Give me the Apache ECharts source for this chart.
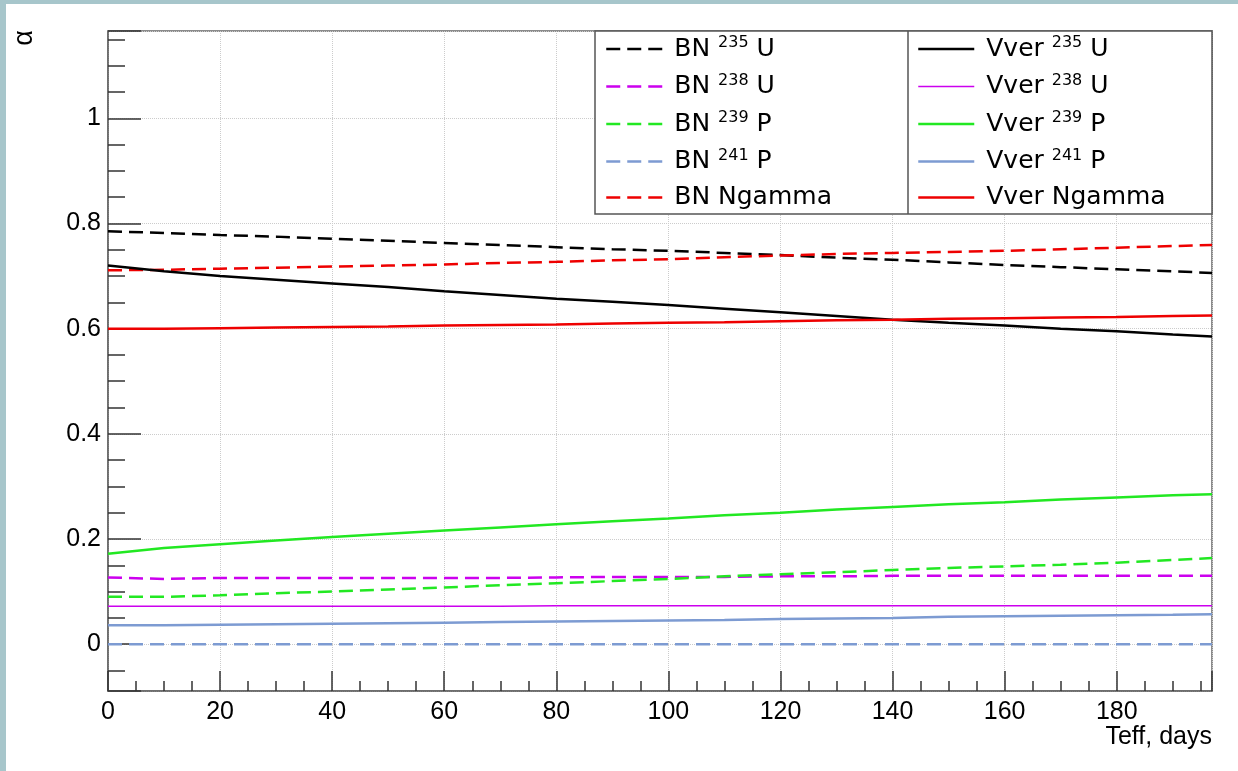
<!DOCTYPE html>
<html>
<head>
<meta charset="utf-8">
<script src="https://cdn.jsdelivr.net/npm/echarts@6/dist/echarts.min.js"></script>
<style>
html,body{margin:0;padding:0;background:#fff;}
#c{width:1238px;height:771px;}
</style>
</head>
<body>
<div id="c"></div>
<script>
// ---- data ----
const days = [0,10,20,30,40,50,60,70,80,90,100,110,120,130,140,150,160,170,180,190,197];

const bn235U   = [0.785,0.782,0.778,0.775,0.771,0.767,0.763,0.759,0.755,0.751,0.748,0.744,0.740,0.735,0.731,0.726,0.721,0.717,0.713,0.709,0.706];
const bn238U   = [0.127,0.124,0.126,0.126,0.126,0.126,0.126,0.126,0.127,0.128,0.128,0.128,0.129,0.129,0.130,0.130,0.130,0.130,0.130,0.130,0.130];
const bn239P   = [0.090,0.090,0.093,0.097,0.100,0.104,0.108,0.112,0.116,0.120,0.124,0.129,0.133,0.137,0.141,0.145,0.148,0.151,0.155,0.160,0.164];
const bn241P   = [0,0,0,0,0,0,0,0,0,0,0,0,0,0,0,0,0,0,0,0,0];
const bnNgamma = [0.711,0.712,0.714,0.716,0.718,0.720,0.722,0.725,0.727,0.730,0.732,0.736,0.739,0.742,0.744,0.746,0.748,0.751,0.754,0.757,0.759];

const vver235U   = [0.720,0.709,0.700,0.693,0.686,0.679,0.671,0.664,0.657,0.651,0.645,0.638,0.631,0.624,0.617,0.611,0.606,0.600,0.595,0.589,0.585];
const vver238U   = [0.072,0.072,0.072,0.072,0.072,0.072,0.072,0.072,0.073,0.073,0.073,0.073,0.073,0.073,0.073,0.073,0.073,0.073,0.073,0.073,0.073];
const vver239P   = [0.172,0.183,0.190,0.197,0.204,0.210,0.216,0.222,0.228,0.234,0.239,0.245,0.250,0.256,0.261,0.266,0.270,0.275,0.279,0.283,0.285];
const vver241P   = [0.036,0.036,0.037,0.038,0.039,0.040,0.041,0.042,0.043,0.044,0.045,0.046,0.048,0.049,0.050,0.052,0.053,0.054,0.055,0.056,0.057];
const vverNgamma = [0.600,0.600,0.601,0.602,0.603,0.604,0.606,0.607,0.608,0.610,0.611,0.612,0.614,0.616,0.617,0.619,0.620,0.621,0.622,0.624,0.625];

const bnNames   = ['BN 235U','BN 238U','BN 239P','BN 241P','BN Ngamma'];
const vverNames = ['Vver 235U','Vver 238U','Vver 239P','Vver 241P','Vver Ngamma'];
const xTitle = 'Teff, days';
const yTitle = 'α';

// ---- styles ----
const C_BLACK = '#000000', C_PURPLE = '#cc00ee', C_GREEN = '#22e822', C_BLUE = '#7d9bd2', C_RED = '#ee0000';
const DASH = [14, 7];
const AX_FONT = 'Liberation Sans';
const LG_FONT = 'DejaVu Sans';

function pairs(arr) { return days.map((d, i) => [d, arr[i]]); }

const defs = [
  { name: bnNames[0], data: bn235U,   color: C_BLACK,  dash: DASH, width: 2.5 },
  { name: bnNames[1], data: bn238U,   color: C_PURPLE, dash: DASH, width: 2.5 },
  { name: bnNames[2], data: bn239P,   color: C_GREEN,  dash: DASH, width: 2.5 },
  { name: bnNames[3], data: bn241P,   color: C_BLUE,   dash: DASH, width: 2.5 },
  { name: bnNames[4], data: bnNgamma, color: C_RED,    dash: DASH, width: 2.5 },
  { name: vverNames[0], data: vver235U,   color: C_BLACK,  dash: 'solid', width: 2.5 },
  { name: vverNames[1], data: vver238U,   color: C_PURPLE, dash: 'solid', width: 1.5 },
  { name: vverNames[2], data: vver239P,   color: C_GREEN,  dash: 'solid', width: 2.5 },
  { name: vverNames[3], data: vver241P,   color: C_BLUE,   dash: 'solid', width: 2.5 },
  { name: vverNames[4], data: vverNgamma, color: C_RED,    dash: 'solid', width: 2.5 }
];

const series = defs.map(d => ({
  name: d.name,
  type: 'line',
  data: pairs(d.data),
  symbol: 'none',
  showSymbol: false,
  smooth: false,
  color: d.color,
  lineStyle: { color: d.color, width: d.width, type: d.dash },
  emphasis: { disabled: true },
  z: 2
}));

function fmt(name) {
  const m = name.match(/^(\S+) (\d+)(\S+)$/);
  if (m) return '{p|' + m[1] + ' }{s|' + m[2] + '}{m| ' + m[3] + '}';
  return '{p|' + name + '}';
}

const legendRich = {
  p: { fontSize: 25, fontFamily: LG_FONT, lineHeight: 28, color: '#000', padding: [0, 0, 0, 7] },
  m: { fontSize: 25, fontFamily: LG_FONT, lineHeight: 28, color: '#000' },
  s: { fontSize: 16, fontFamily: LG_FONT, lineHeight: 2, color: '#000', verticalAlign: 'top' }
};

function makeLegend(names, left) {
  return {
    data: names.map(n => {
      const d = defs.find(s => s.name === n);
      return { name: n, lineStyle: { width: d.width, color: d.color, type: d.dash } };
    }),
    orient: 'vertical',
    left: left,
    top: 35,
    padding: 0,
    itemGap: 11,
    itemWidth: 56,
    itemHeight: 28,
    selectedMode: false,
    formatter: fmt,
    itemStyle: { opacity: 0 },
    textStyle: { fontSize: 25, fontFamily: LG_FONT, color: '#000', rich: legendRich },
    z: 6
  };
}

const FRAME = '#666666';
const TICK = '#333333';

const option = {
  animation: false,
  backgroundColor: '#ffffff',
  grid: {
    left: 108, top: 31, right: 26, bottom: 80,
    show: true, borderColor: FRAME, borderWidth: 1.5, backgroundColor: '#ffffff'
  },
  xAxis: {
    type: 'value',
    min: 0, max: 197, interval: 20,
    name: xTitle,
    nameLocation: 'end',
    nameGap: 0,
    nameTextStyle: { fontSize: 25, fontFamily: AX_FONT, color: '#000', align: 'right', verticalAlign: 'top', padding: [34, 0, 0, 0] },
    axisLine: { show: true, onZero: false, lineStyle: { color: FRAME, width: 1.5 } },
    axisTick: { show: true, inside: true, length: 20, lineStyle: { color: TICK, width: 1.5 } },
    minorTick: { show: true, splitNumber: 4, length: 10, lineStyle: { color: TICK, width: 1.5 } },
    axisLabel: { fontSize: 25, fontFamily: AX_FONT, color: '#000', margin: 9, showMaxLabel: false },
    splitLine: { show: true, lineStyle: { color: '#cccccc', type: 'dotted', width: 1 } },
    minorSplitLine: { show: false }
  },
  yAxis: {
    type: 'value',
    min: -0.089, max: 1.166,
    splitNumber: 6, minInterval: 0.2, maxInterval: 0.2,
    axisLine: { show: true, onZero: false, lineStyle: { color: FRAME, width: 1.5 } },
    axisTick: { show: true, inside: true, length: 33, lineStyle: { color: TICK, width: 1.5 } },
    minorTick: { show: true, splitNumber: 4, length: 17, lineStyle: { color: TICK, width: 1.5 } },
    axisLabel: { fontSize: 25, fontFamily: AX_FONT, color: '#000', margin: 7, showMinLabel: false, showMaxLabel: false },
    splitLine: { show: true, lineStyle: { color: '#cccccc', type: 'dotted', width: 1 } }
  },
  legend: [ makeLegend(bnNames, 605), makeLegend(vverNames, 917) ],
  graphic: [
    { type: 'rect', shape: { x: 0, y: 0, width: 6, height: 771 }, style: { fill: '#a7c6cb' }, z: 10, silent: true },
    { type: 'rect', shape: { x: 0, y: 0, width: 1238, height: 4 }, style: { fill: '#a7c6cb' }, z: 10, silent: true },
    { type: 'rect', shape: { x: 595, y: 31, width: 617, height: 183 }, style: { fill: '#ffffff', stroke: '#555555', lineWidth: 1.5 }, z: 3, silent: true },
    { type: 'line', shape: { x1: 908, y1: 31, x2: 908, y2: 214 }, style: { stroke: '#555555', lineWidth: 1.5 }, z: 3, silent: true },
    { type: 'text', x: 25, y: 38, rotation: Math.PI / 2, silent: true, z: 10,
      style: { text: yTitle, font: '27px "Liberation Sans"', fill: '#000', align: 'center', verticalAlign: 'middle' } }
  ],
  series: series
};

const chart = echarts.init(document.getElementById('c'), null, { renderer: 'canvas' });
chart.setOption(option);
</script>
</body>
</html>
